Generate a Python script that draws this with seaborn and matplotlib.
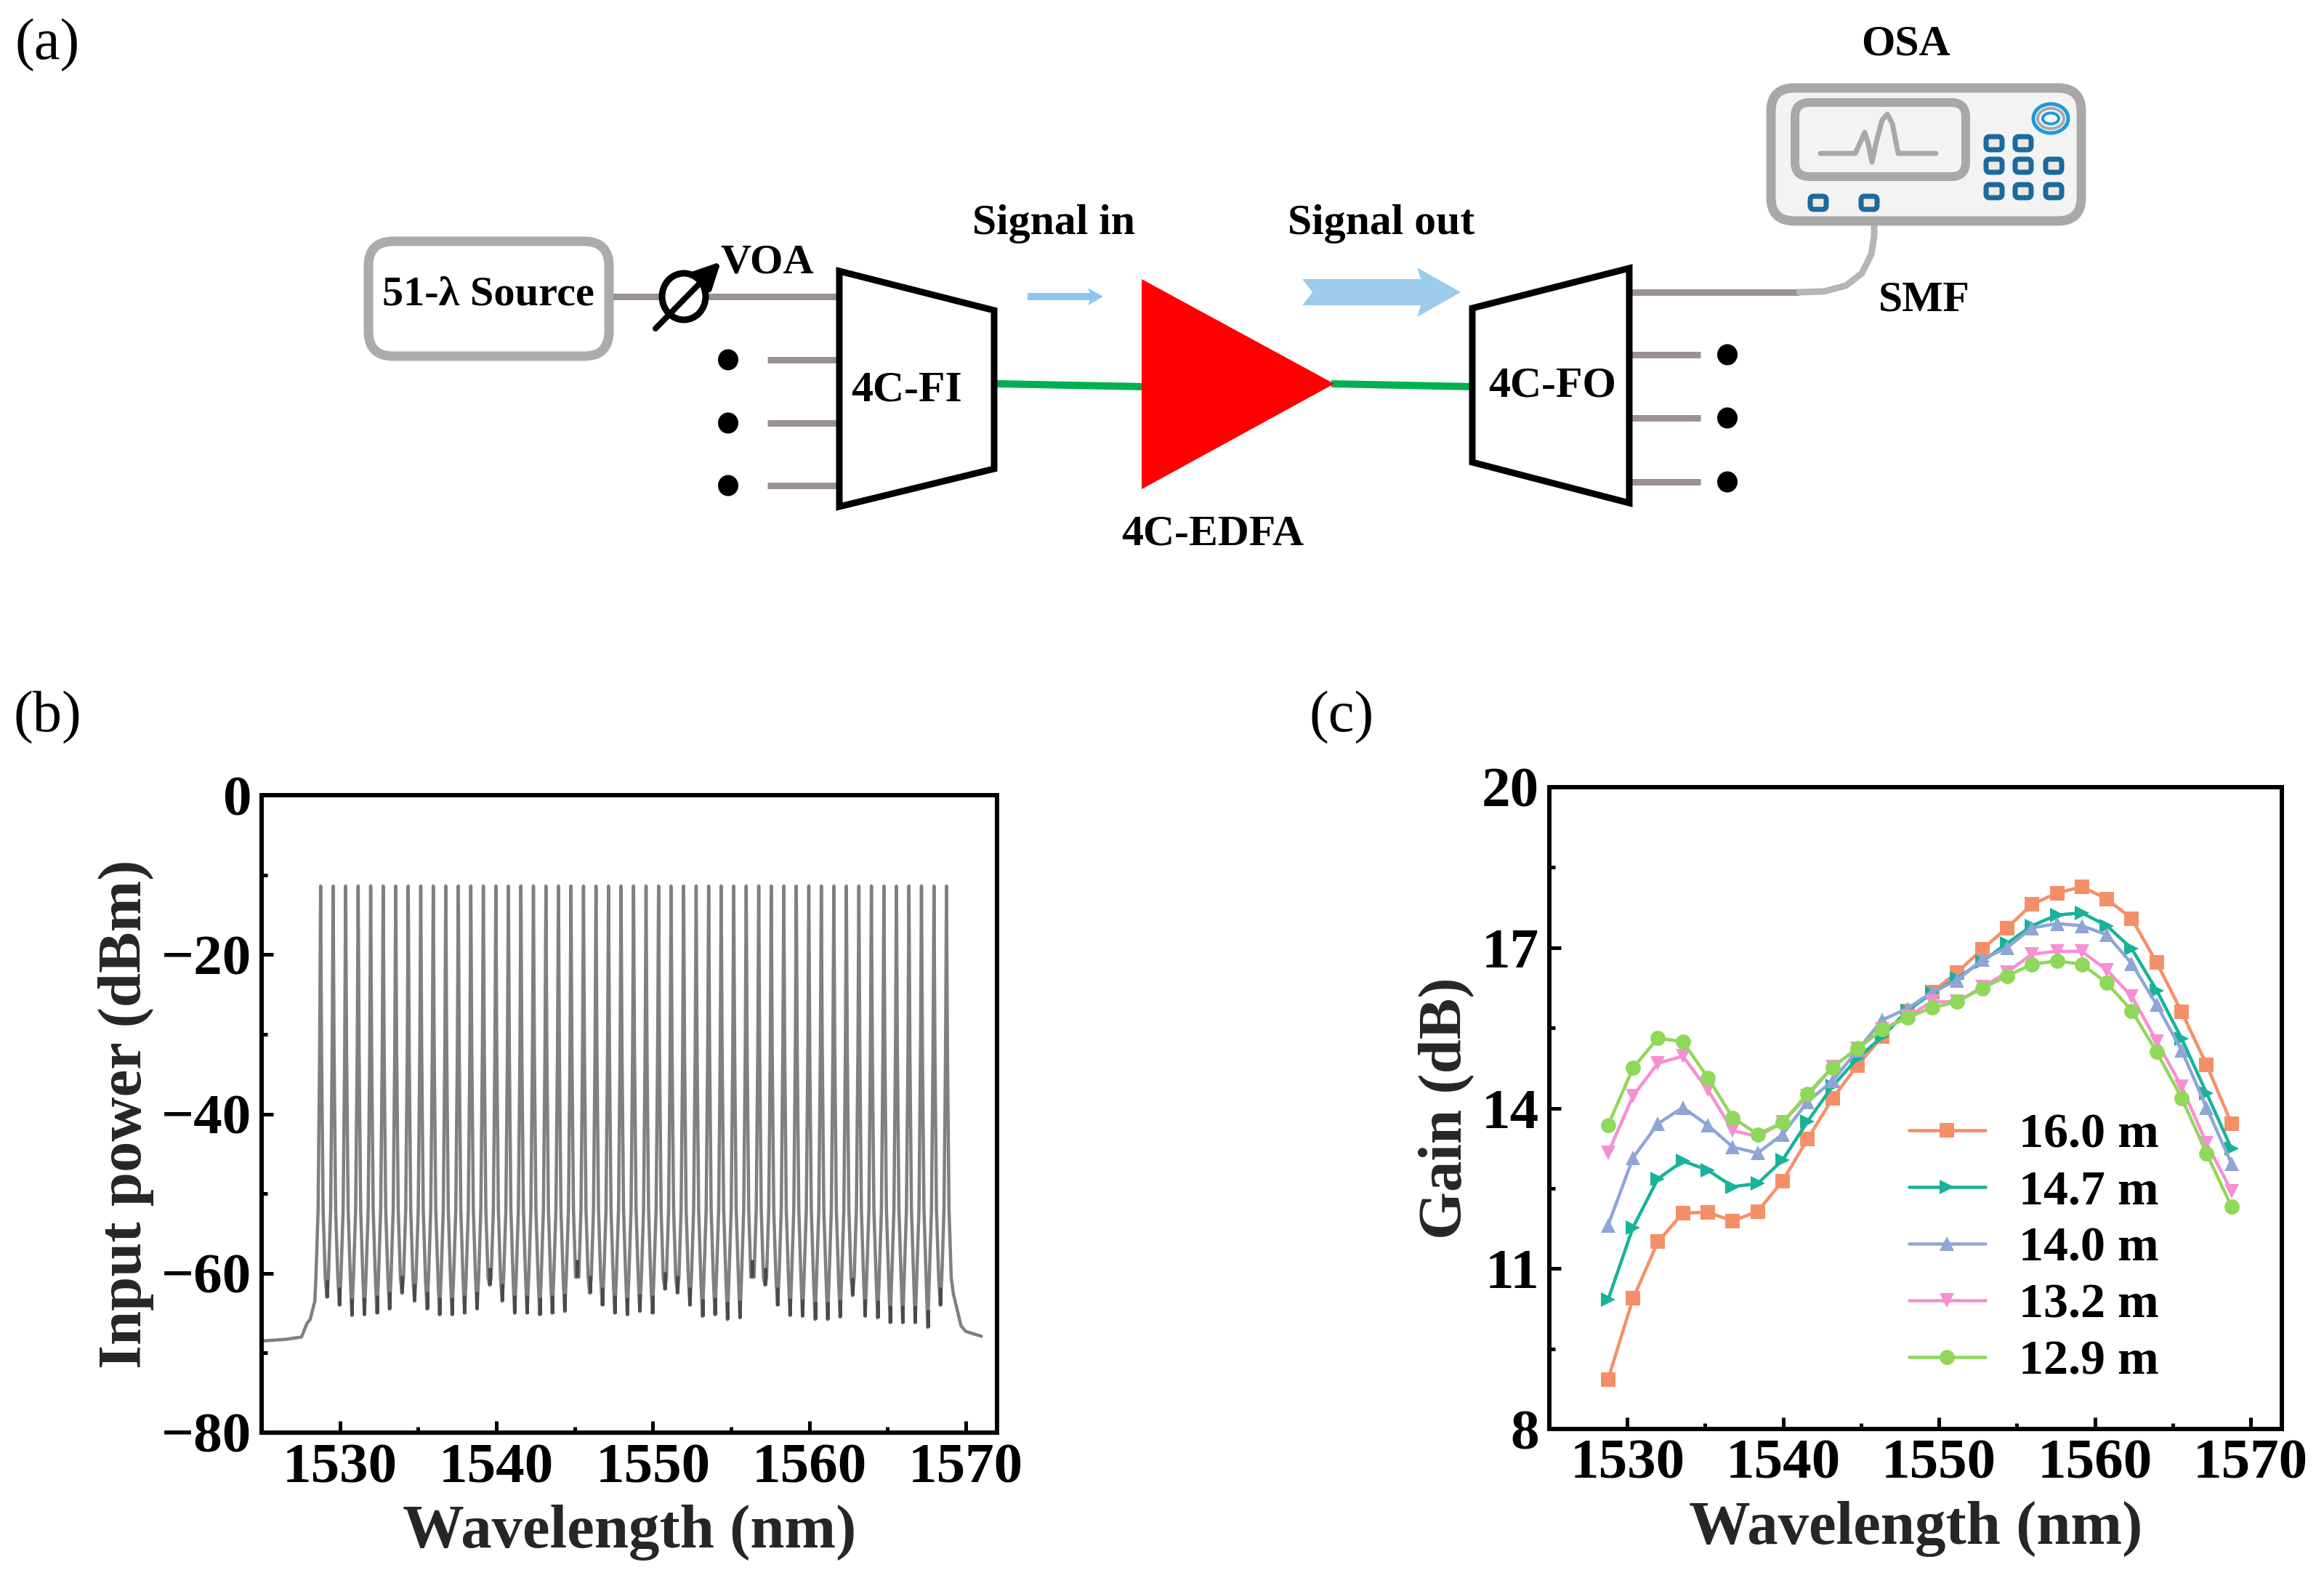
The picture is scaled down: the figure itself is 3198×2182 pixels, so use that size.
import numpy as np
import pandas as pd
import matplotlib.pyplot as plt
import seaborn as sns
from matplotlib.patches import FancyBboxPatch, Ellipse, Polygon

W, H = 3198, 2182

# (b) input spectrum, 51 channels
peak_wl = [1528.77 + 0.8 * i for i in range(51)]
peak_dbm = [-11.4] * 51
valley_dbm = [-63.0, -64.0, -65.3, -65.2, -65.0, -64.5, -62.5, -63.5, -64.5, -65.2,
              -65.2, -65.0, -64.5, -61.5, -63.5, -65.0, -65.0, -65.2, -65.0, -64.8,
              -60.5, -62.5, -64.0, -65.0, -65.2, -64.8, -65.0, -62.0, -62.5, -64.0,
              -65.4, -65.2, -65.8, -65.6, -60.5, -61.5, -64.0, -65.3, -65.4, -65.8,
              -65.8, -65.5, -62.8, -65.4, -65.6, -66.2, -66.2, -66.2, -66.8, -64.0]
flank_nm = [0.30, 0.16, 0.06]
flank_dbm = [-60.5, -52.0, -32.0]
left_tail_wl = [1525.0, 1526.5, 1527.55, 1527.9, 1528.1, 1528.4]
left_tail_dbm = [-68.5, -68.3, -68.0, -66.3, -65.8, -63.5]
right_tail_wl = [1569.2, 1569.7, 1570.0, 1570.5, 1571.0]
right_tail_dbm = [-62.5, -66.6, -67.3, -67.6, -67.9]

# (c) gain curves
gain_wl = [1528.77 + 1.6 * i for i in range(26)]
lengths = ['16.0 m', '14.7 m', '14.0 m', '13.2 m', '12.9 m']
gain_160 = [8.93, 10.44, 11.50, 12.04, 12.05, 11.89, 12.07, 12.64, 13.42, 14.18, 14.80, 15.34, 15.82,
            16.17, 16.54, 16.97, 17.37, 17.81, 18.02, 18.14, 17.91, 17.54, 16.72, 15.80, 14.81, 13.71]
gain_147 = [10.42, 11.77, 12.68, 13.01, 12.84, 12.53, 12.59, 13.03, 13.75, 14.41, 14.93, 15.34, 15.82,
            16.15, 16.43, 16.74, 17.08, 17.41, 17.61, 17.65, 17.41, 16.98, 16.20, 15.30, 14.28, 13.24]
gain_140 = [11.81, 13.07, 13.71, 14.01, 13.68, 13.27, 13.16, 13.51, 14.12, 14.51, 15.08, 15.65, 15.86,
            16.17, 16.39, 16.78, 17.00, 17.37, 17.45, 17.41, 17.24, 16.70, 15.93, 15.08, 14.01, 12.96]
gain_132 = [13.16, 14.23, 14.84, 14.97, 14.34, 13.58, 13.47, 13.73, 14.23, 14.77, 15.11, 15.47, 15.71,
            15.99, 15.99, 16.26, 16.54, 16.88, 16.93, 16.93, 16.58, 16.09, 15.25, 14.40, 13.34, 12.45]
gain_129 = [13.68, 14.75, 15.31, 15.24, 14.57, 13.82, 13.51, 13.73, 14.27, 14.76, 15.12, 15.47, 15.69,
            15.88, 15.99, 16.24, 16.47, 16.69, 16.75, 16.69, 16.34, 15.82, 15.05, 14.19, 13.15, 12.16]
length_colors = ['#F58F68', '#17B398', '#8FA5D8', '#F78FD2', '#8FD85A']
length_markers = ['s', '>', '^', 'v', 'o']

wave_ticks = [1530, 1540, 1550, 1560, 1570]
power_ticks = [0, -20, -40, -60, -80]
gain_ticks = [8, 11, 14, 17, 20]

sns.set_theme(style='ticks')
plt.rcParams['font.family'] = ['Liberation Serif', 'DejaVu Serif']
plt.rcParams['font.weight'] = 'bold'
plt.rcParams['axes.labelweight'] = 'bold'
plt.rcParams['axes.unicode_minus'] = True

fig = plt.figure(figsize=(W / 200, H / 200), dpi=200, facecolor='white')


def px(n):
    # pixels to points at 200 dpi
    return n * 0.36


def add_axes_px(left, top, right, bottom):
    return fig.add_axes([left / W, 1 - bottom / H, (right - left) / W, (bottom - top) / H])


def style_axes(ax, xticks, yticks):
    ax.set_xticks(xticks)
    ax.set_yticks(yticks)
    ax.set_xticks([t + 5 for t in xticks[:-1]], minor=True)
    ax.set_yticks([(a + b) / 2 for a, b in zip(yticks[:-1], yticks[1:])], minor=True)
    ax.tick_params(which='major', direction='in', length=px(16), width=px(5), labelsize=28.5, pad=px(14), color='black', labelcolor='black')
    ax.tick_params(which='minor', direction='in', length=px(8), width=px(5), color='black')
    for s in ax.spines.values():
        s.set_visible(True)
        s.set_linewidth(px(6))
        s.set_color('black')


# (b) spectrum
trace_wl, trace_dbm = list(left_tail_wl), list(left_tail_dbm)
for i, (w, p) in enumerate(zip(peak_wl, peak_dbm)):
    left_floor = valley_dbm[i - 1] if i > 0 else -63.0
    right_floor = valley_dbm[i] if i < 50 else -63.0
    for off, lev in zip(flank_nm, flank_dbm):
        trace_wl.append(w - off)
        trace_dbm.append(max(lev, left_floor))
    trace_wl.append(w)
    trace_dbm.append(p)
    for off, lev in zip(flank_nm[::-1], flank_dbm[::-1]):
        trace_wl.append(w + off)
        trace_dbm.append(max(lev, right_floor))
    if i < 50:
        trace_wl.append(w + 0.4)
        trace_dbm.append(valley_dbm[i])
trace_wl += right_tail_wl
trace_dbm += right_tail_dbm
spectrum = pd.DataFrame({'wl': trace_wl, 'dbm': trace_dbm})

ax_b = add_axes_px(360, 1094, 1372, 1971)
sns.lineplot(data=spectrum, x='wl', y='dbm', ax=ax_b, color='#808080', linewidth=px(4.5), sort=False, estimator=None, errorbar=None)
# dark noise at the bottom of each valley
ax_b.vlines([w + 0.4 for w in peak_wl[:-1]], valley_dbm, [v + 2.2 for v in valley_dbm], color='#4a4a4a', linewidth=px(5))
ax_b.set_xlim(1525, 1572)
ax_b.set_ylim(-80, 0)
style_axes(ax_b, wave_ticks, power_ticks)
ax_b.set_xlabel('Wavelength (nm)', fontsize=30.5, labelpad=px(14))
ax_b.set_ylabel('Input power (dBm)', fontsize=30.5, labelpad=px(10))

# (c) gain
gain = pd.DataFrame({'wl': gain_wl * 5,
                     'gain': gain_160 + gain_147 + gain_140 + gain_132 + gain_129,
                     'length': [n for n in lengths for _ in gain_wl]})
ax_c = add_axes_px(2132, 1083, 3140, 1966)
sns.lineplot(data=gain, x='wl', y='gain', hue='length', style='length', hue_order=lengths, style_order=lengths,
             palette=dict(zip(lengths, length_colors)), markers=dict(zip(lengths, length_markers)), dashes=False,
             linewidth=px(4.5), markersize=7.5, markeredgewidth=0, errorbar=None, ax=ax_c)
ax_c.set_xlim(1525, 1572)
ax_c.set_ylim(8, 20)
style_axes(ax_c, wave_ticks, gain_ticks)
ax_c.set_xlabel('Wavelength (nm)', fontsize=30.5, labelpad=px(14))
ax_c.set_ylabel('Gain (dB)', fontsize=30.5, labelpad=px(10))
ax_c.legend(frameon=False, fontsize=24.5, loc='lower left', bbox_to_anchor=(0.43, 0.0), labelspacing=0.24,
            handlelength=1.55, handletextpad=0.68, title=None, labelcolor='black')

# (a) schematic on a full-figure pixel canvas
cv = fig.add_axes([0, 0, 1, 1], zorder=5)
cv.set_xlim(0, W)
cv.set_ylim(H, 0)
cv.axis('off')
cv.patch.set_alpha(0)

GREY = '#9a9292'
BOX = '#ababab'
BTN = '#1a6a9f'


def label(x, y, s, size=21.5, weight='bold'):
    cv.text(x, y, s, ha='center', va='center', fontsize=size, fontweight=weight, color='black')


def seg(x0, y0, x1, y1, color=GREY, lw=9, z=2):
    cv.plot([x0, x1], [y0, y1], color=color, lw=px(lw), solid_capstyle='butt', zorder=z)


def rbox(x0, y0, x1, y1, r, fc, ec, lw, z=3):
    cv.add_patch(FancyBboxPatch((x0 + r, y0 + r), x1 - x0 - 2 * r, y1 - y0 - 2 * r, boxstyle=f'round,pad={r},rounding_size={r}',
                                fc=fc, ec=ec, lw=px(lw), zorder=z))


label(65, 62, '(a)', 29, 'normal')
label(65, 987, '(b)', 29, 'normal')
label(1846, 987, '(c)', 29, 'normal')

rbox(507, 332, 838, 490, 34, 'white', BOX, 13)
label(672, 405, '51-λ Source', 21)
seg(842, 408, 1152, 408)
cv.add_patch(Ellipse((941, 408), 60, 64, fc='white', ec='black', lw=px(9), zorder=4))
cv.annotate('', xy=(992, 360), xytext=(902, 452), zorder=5,
            arrowprops=dict(arrowstyle='-|>,head_length=0.9,head_width=0.45', color='black', lw=px(8), shrinkA=0, shrinkB=0))
label(1056, 362, 'VOA', 21)

for y in [495, 582, 668]:
    seg(1056, y, 1155, y)
    cv.add_patch(Ellipse((1002, y), 28, 29, fc='black', ec='none', zorder=4))
cv.add_patch(Polygon([(1155, 373), (1368, 427), (1368, 645), (1155, 697)], closed=True, fc='white', ec='black', lw=px(9), zorder=3, joinstyle='miter'))
label(1247, 538, '4C-FI', 21.5)

seg(1372, 528, 1575, 532, '#00B050', 10)
seg(1832, 528, 2026, 532, '#00B050', 10)
cv.add_patch(Polygon([(1571, 384), (1571, 673), (1836, 528)], closed=True, fc='#FF0000', ec='none', zorder=3))
label(1669, 736, '4C-EDFA')
label(1450, 308, 'Signal in')
label(1901, 308, 'Signal out')

cv.add_patch(Polygon([(1414, 403), (1500, 403), (1497, 396), (1518, 408), (1497, 420), (1500, 413), (1414, 413)],
                     closed=True, fc='#8CC6EC', ec='none', zorder=3))
cv.add_patch(Polygon([(1792, 384), (1955, 384), (1950, 368), (2010, 402), (1950, 436), (1955, 420), (1792, 420), (1806, 402)],
                     closed=True, fc='#9CCBEC', ec='none', zorder=3))

cv.add_patch(Polygon([(2026, 424), (2242, 369), (2242, 692), (2026, 636)], closed=True, fc='white', ec='black', lw=px(9), zorder=3, joinstyle='miter'))
label(2136, 532, '4C-FO', 21.5)
for y in [488, 575, 663]:
    seg(2244, y, 2340, y)
    cv.add_patch(Ellipse((2377, y), 28, 29, fc='black', ec='none', zorder=4))

# fibre to the OSA
seg(2242, 402, 2476, 402)
bend_x = [2476, 2510, 2540, 2562, 2575, 2579, 2579]
bend_y = [402, 401, 393, 376, 350, 325, 300]
cv.plot(bend_x, bend_y, color='#b5b5b5', lw=px(9), zorder=2)

rbox(2437, 121, 2864, 304, 32, '#F3F3F3', '#A8A8A8', 13)
rbox(2470, 141, 2705, 243, 20, '#F3F3F3', '#A8A8A8', 12, z=4)
pulse_x = [2505, 2553, 2559, 2566, 2571, 2576, 2582, 2590, 2597, 2604, 2612, 2664]
pulse_y = [211, 211, 198, 182, 198, 223, 195, 165, 157, 170, 211, 211]
cv.plot(pulse_x, pulse_y, color='#A8A8A8', lw=px(7), zorder=5)
for bx, by in [(2744, 197), (2784, 197), (2744, 228), (2784, 228), (2826, 228), (2744, 263), (2784, 263), (2826, 263), (2502, 279), (2572, 279)]:
    rbox(bx - 11, by - 9, bx + 11, by + 9, 5, '#F3E9DF', BTN, 7, z=5)
cv.add_patch(Ellipse((2822, 163), 48, 40, fc='#F3F3F3', ec='#1E9AD6', lw=px(5), zorder=5))
cv.add_patch(Ellipse((2822, 163), 36, 28, fc='#F3F3F3', ec='#A8A8A8', lw=px(4), zorder=5))
cv.add_patch(Ellipse((2822, 163), 22, 15, fc='white', ec='#1E9AD6', lw=px(4), zorder=5))
label(2622, 62, 'OSA')
label(2648, 413, 'SMF')

fig.savefig('out.png', dpi=200)
